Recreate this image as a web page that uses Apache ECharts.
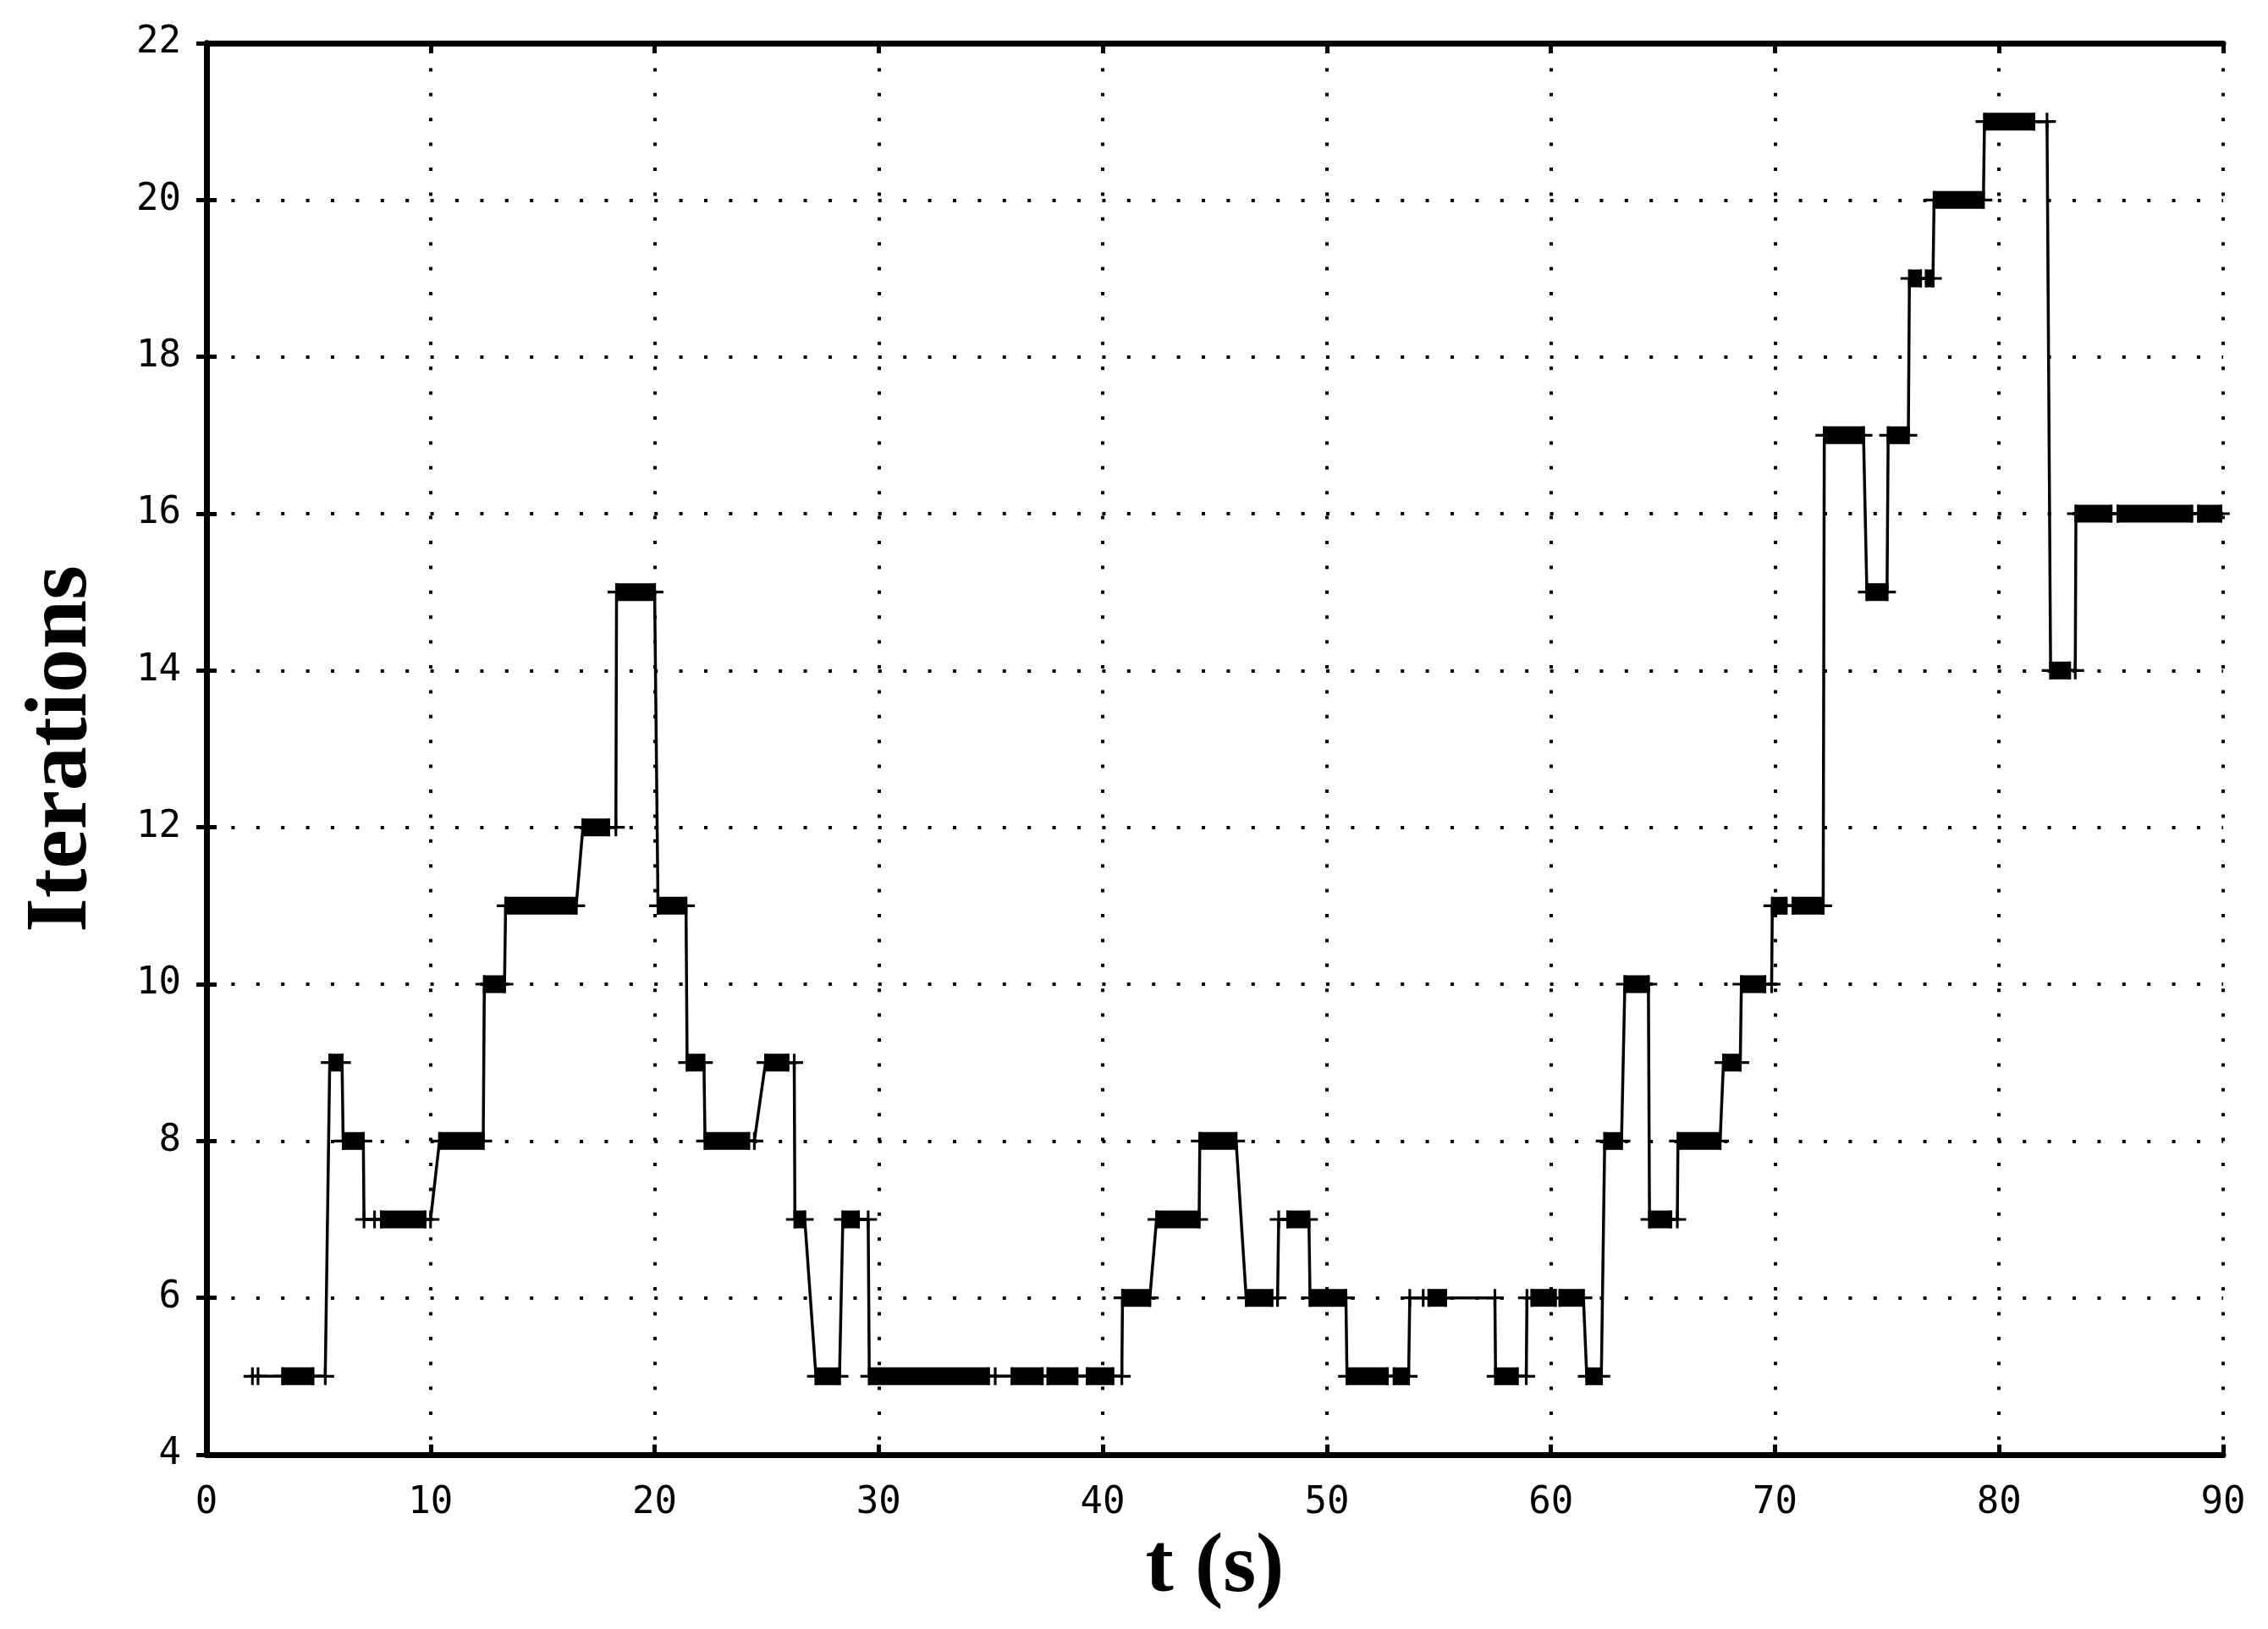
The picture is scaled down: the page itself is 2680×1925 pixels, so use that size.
<!DOCTYPE html>
<html>
<head>
<meta charset="utf-8">
<script src="https://cdn.jsdelivr.net/npm/echarts@6/dist/echarts.min.js"></script>
<style>
  html, body { margin: 0; padding: 0; background: #fff; }
  #chart { width: 2680px; height: 1925px; }
</style>
</head>
<body>
<div id="chart"></div>
<script>
// samples of the trace, in time order (each one gets a '+' marker)
const sampleT = [
  2.05, 2.3, 3.4, 4.75, 5.3,
  5.5, 6.05,
  6.1, 7.0,
  7.03, 7.5, 7.8, 9.75, 10.0,
  10.4, 12.35,
  12.4, 13.3,
  13.35, 16.5,
  16.8, 17.95, 18.27,
  18.3, 20.0,
  20.15, 21.4,
  21.45, 22.2,
  22.25, 24.2, 24.45,
  24.95, 25.95, 26.23,
  26.26, 26.7,
  27.2, 28.25,
  28.4, 29.1, 29.53,
  29.58, 34.9, 35.2, 35.95, 37.3, 37.55, 38.85, 39.3, 40.45, 40.85,
  40.88, 42.1,
  42.4, 44.3,
  44.33, 45.95,
  46.4, 47.55, 47.8,
  47.85, 48.25, 49.2,
  49.25, 50.85,
  50.9, 52.7, 53.0, 53.65,
  53.7, 54.3, 54.55, 55.3, 57.5,
  57.53, 58.5, 58.9,
  58.93, 59.15, 60.2, 60.4, 61.45,
  61.6, 62.25,
  62.4, 63.15,
  63.3, 64.35,
  64.4, 65.35, 65.64,
  65.67, 67.55,
  67.7, 68.45,
  68.5, 69.55, 69.85,
  69.88, 70.5, 70.8, 72.15,
  72.2, 73.95,
  74.1, 75.0,
  75.05, 75.95,
  76.0, 76.5, 76.75, 77.05,
  77.1, 79.3,
  79.35, 81.55, 82.14,
  82.3, 83.15, 83.4,
  83.43, 85.0, 85.3, 88.6, 88.9, 89.9
];
const sampleIter = [
  5, 5, 5, 5, 5,
  9, 9,
  8, 8,
  7, 7, 7, 7, 7,
  8, 8,
  10, 10,
  11, 11,
  12, 12, 12,
  15, 15,
  11, 11,
  9, 9,
  8, 8, 8,
  9, 9, 9,
  7, 7,
  5, 5,
  7, 7, 7,
  5, 5, 5, 5, 5, 5, 5, 5, 5, 5,
  6, 6,
  7, 7,
  8, 8,
  6, 6, 6,
  7, 7, 7,
  6, 6,
  5, 5, 5, 5,
  6, 6, 6, 6, 6,
  5, 5, 5,
  6, 6, 6, 6, 6,
  5, 5,
  8, 8,
  10, 10,
  7, 7, 7,
  8, 8,
  9, 9,
  10, 10, 10,
  11, 11, 11, 11,
  17, 17,
  15, 15,
  17, 17,
  19, 19, 19, 19,
  20, 20,
  21, 21, 21,
  14, 14, 14,
  16, 16, 16, 16, 16, 16
];

// stretches where the samples are so dense that the markers merge into a bar
const runFrom = [3.4, 5.5, 6.1, 7.8, 10.4, 12.4, 13.35, 16.8, 18.3, 20.15, 21.45, 22.25, 24.95, 26.26, 27.2, 28.4,
  29.58, 35.95, 37.55, 39.3, 40.88, 42.4, 44.33, 46.4, 48.25, 49.25, 50.9, 53.0, 54.55, 57.53, 59.15, 60.4,
  61.6, 62.4, 63.3, 64.4, 65.67, 67.7, 68.5, 69.88, 70.8, 72.2, 74.1, 75.05, 76.0, 76.75, 77.1, 79.35,
  82.3, 83.43, 85.3, 88.9];
const runTo = [4.75, 6.05, 7.0, 9.75, 12.35, 13.3, 16.5, 17.95, 20.0, 21.4, 22.2, 24.2, 25.95, 26.7, 28.25, 29.1,
  34.9, 37.3, 38.85, 40.45, 42.1, 44.3, 45.95, 47.55, 49.2, 50.85, 52.7, 53.65, 55.3, 58.5, 60.2, 61.45,
  62.25, 63.15, 64.35, 65.35, 67.55, 68.45, 69.55, 70.5, 72.15, 73.95, 75.0, 75.95, 76.5, 77.05, 79.3, 81.55,
  83.15, 85.0, 88.6, 89.9];
const runIter = [5, 9, 8, 7, 8, 10, 11, 12, 15, 11, 9, 8, 9, 7, 5, 7,
  5, 5, 5, 5, 6, 7, 8, 6, 7, 6, 5, 5, 6, 5, 6, 6,
  5, 8, 10, 7, 8, 9, 10, 11, 11, 17, 15, 17, 19, 19, 20, 21,
  14, 16, 16, 16];

const xTicks = { min: 0, max: 90, step: 10 };
const yTicks = { min: 4, max: 22, step: 2 };

const points = sampleT.map((t, i) => [t, sampleIter[i]]);
const runs = runFrom.map((a, i) => [a, runTo[i], runIter[i]]);

const tickFont = "'DejaVu Sans Mono', monospace";
const titleFont = "'Liberation Serif', 'DejaVu Serif', serif";
const plus = 'path://M0,8.5H20V11.5H0Z M8.5,0H11.5V20H8.5Z';

const frame = {
  axisLine: { show: true, lineStyle: { color: '#000', width: 7 } },
  axisTick: { show: true, inside: true, length: 12, lineStyle: { color: '#000', width: 5 } }
};
const dots = { show: true, lineStyle: { color: '#000', width: 4, type: [4, 25.4] } };

const chart = echarts.init(document.getElementById('chart'));
chart.setOption({
  backgroundColor: '#fff',
  animation: false,
  grid: { left: 244, right: 53, top: 51, bottom: 206 },
  xAxis: [
    Object.assign({
      type: 'value', position: 'bottom',
      min: xTicks.min, max: xTicks.max, interval: xTicks.step,
      splitLine: dots,
      axisLabel: { color: '#000', fontFamily: tickFont, fontSize: 44, margin: 36 },
      name: 't (s)', nameLocation: 'middle', nameGap: 84,
      nameTextStyle: { color: '#000', fontFamily: titleFont, fontWeight: 'bold', fontSize: 100 }
    }, frame),
    Object.assign({
      type: 'value', position: 'top',
      min: xTicks.min, max: xTicks.max, interval: xTicks.step,
      splitLine: { show: false }, axisLabel: { show: false }
    }, frame)
  ],
  yAxis: [
    Object.assign({
      type: 'value', position: 'left',
      min: yTicks.min, max: yTicks.max, interval: yTicks.step,
      splitLine: dots,
      axisLabel: { color: '#000', fontFamily: tickFont, fontSize: 44, margin: 30 },
      name: 'Iterations', nameLocation: 'middle', nameGap: 118, nameRotate: 90,
      nameTextStyle: { color: '#000', fontFamily: titleFont, fontWeight: 'bold', fontSize: 104 }
    }, frame),
    Object.assign({
      type: 'value', position: 'right',
      min: yTicks.min, max: yTicks.max, interval: yTicks.step,
      splitLine: { show: false }, axisLabel: { show: false }
    }, frame)
  ],
  series: [
    {
      type: 'custom',
      data: runs,
      clip: true,
      renderItem: function (params, api) {
        const a = api.coord([api.value(0), api.value(2)]);
        const b = api.coord([api.value(1), api.value(2)]);
        return {
          type: 'rect',
          shape: { x: a[0] - 1.5, y: a[1] - 10.5, width: b[0] - a[0] + 3, height: 21 },
          style: { fill: '#000' }
        };
      },
      z: 3
    },
    {
      type: 'line',
      data: points,
      showAllSymbol: true,
      symbol: plus,
      symbolSize: 21,
      itemStyle: { color: '#000', borderWidth: 0 },
      lineStyle: { color: '#000', width: 3.5 },
      z: 4
    }
  ]
});
</script>
</body>
</html>
